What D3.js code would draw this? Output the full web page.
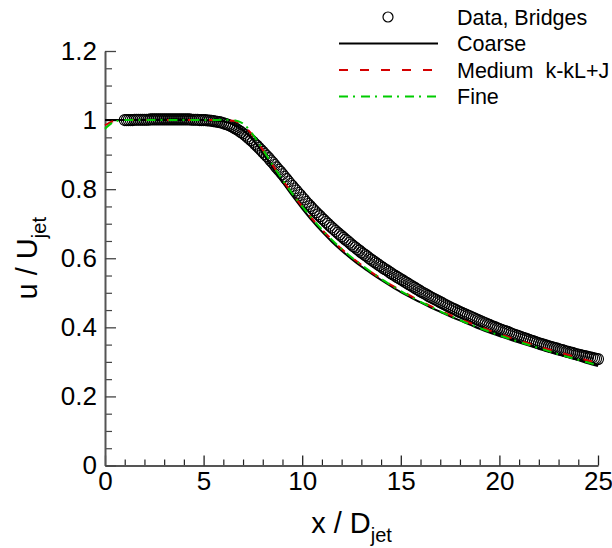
<!DOCTYPE html>
<html>
<head>
<meta charset="utf-8">
<script src="https://cdn.jsdelivr.net/npm/d3@7"></script>
<style>
  html, body { margin: 0; padding: 0; background: #fff; }
  svg { display: block; font-family: "Liberation Sans", Arial, Helvetica, sans-serif; }
  text { white-space: pre; }
</style>
</head>
<body>
<svg id="chart" width="612" height="548"></svg>
<script>
// Centreline velocity decay of the jet: measured points and three grid levels.
const dataX = [
  1.0, 1.1, 1.2, 1.3, 1.4, 1.5, 1.6, 1.7, 1.8, 1.9,
  2.0, 2.1, 2.2, 2.3, 2.4, 2.5, 2.6, 2.7, 2.8, 2.9,
  3.0, 3.1, 3.2, 3.3, 3.4, 3.5, 3.6, 3.7, 3.8, 3.9,
  4.0, 4.1, 4.2, 4.3, 4.4, 4.5, 4.6, 4.7, 4.8, 4.9,
  5.0, 5.1, 5.2, 5.3, 5.4, 5.5, 5.6, 5.7, 5.8, 5.9,
  6.0, 6.1, 6.2, 6.3, 6.4, 6.5, 6.6, 6.7, 6.8, 6.9,
  7.0, 7.1, 7.2, 7.3, 7.4, 7.5, 7.6, 7.7, 7.8, 7.9,
  8.0, 8.1, 8.2, 8.3, 8.4, 8.5, 8.6, 8.7, 8.8, 8.9,
  9.0, 9.1, 9.2, 9.3, 9.4, 9.5, 9.6, 9.7, 9.8, 9.9,
  10.0, 10.1, 10.2, 10.3, 10.4, 10.5, 10.6, 10.7, 10.8, 10.9,
  11.0, 11.1, 11.2, 11.3, 11.4, 11.5, 11.6, 11.7, 11.8, 11.9,
  12.0, 12.1, 12.2, 12.3, 12.4, 12.5, 12.6, 12.7, 12.8, 12.9,
  13.0, 13.1, 13.2, 13.3, 13.4, 13.5, 13.6, 13.7, 13.8, 13.9,
  14.0, 14.1, 14.2, 14.3, 14.4, 14.5, 14.6, 14.7, 14.8, 14.9,
  15.0, 15.1, 15.2, 15.3, 15.4, 15.5, 15.6, 15.7, 15.8, 15.9,
  16.0, 16.1, 16.2, 16.3, 16.4, 16.5, 16.6, 16.7, 16.8, 16.9,
  17.0, 17.1, 17.2, 17.3, 17.4, 17.5, 17.6, 17.7, 17.8, 17.9,
  18.0, 18.1, 18.2, 18.3, 18.4, 18.5, 18.6, 18.7, 18.8, 18.9,
  19.0, 19.1, 19.2, 19.3, 19.4, 19.5, 19.6, 19.7, 19.8, 19.9,
  20.0, 20.1, 20.2, 20.3, 20.4, 20.5, 20.6, 20.7, 20.8, 20.9,
  21.0, 21.1, 21.2, 21.3, 21.4, 21.5, 21.6, 21.7, 21.8, 21.9,
  22.0, 22.1, 22.2, 22.3, 22.4, 22.5, 22.6, 22.7, 22.8, 22.9,
  23.0, 23.1, 23.2, 23.3, 23.4, 23.5, 23.6, 23.7, 23.8, 23.9,
  24.0, 24.1, 24.2, 24.3, 24.4, 24.5, 24.6, 24.7, 24.8, 24.9,
  25.0
];
const dataU = [
  1.000, 1.000, 1.000, 1.000, 1.000, 1.001, 1.001, 1.001, 1.001, 1.001,
  1.001, 1.001, 1.001, 1.002, 1.002, 1.002, 1.002, 1.002, 1.002, 1.002,
  1.002, 1.002, 1.002, 1.002, 1.002, 1.002, 1.002, 1.002, 1.002, 1.002,
  1.002, 1.002, 1.002, 1.002, 1.001, 1.001, 1.001, 1.001, 1.000, 1.000,
  1.000, 1.000, 0.999, 0.999, 0.998, 0.997, 0.996, 0.995, 0.994, 0.993,
  0.991, 0.989, 0.987, 0.985, 0.982, 0.979, 0.976, 0.973, 0.969, 0.965,
  0.961, 0.957, 0.952, 0.947, 0.942, 0.937, 0.931, 0.926, 0.920, 0.914,
  0.908, 0.902, 0.896, 0.890, 0.883, 0.877, 0.870, 0.863, 0.856, 0.850,
  0.843, 0.836, 0.829, 0.822, 0.815, 0.809, 0.802, 0.796, 0.789, 0.783,
  0.776, 0.770, 0.763, 0.757, 0.751, 0.745, 0.739, 0.733, 0.727, 0.722,
  0.716, 0.711, 0.705, 0.700, 0.694, 0.689, 0.684, 0.679, 0.674, 0.669,
  0.664, 0.659, 0.654, 0.650, 0.645, 0.640, 0.635, 0.631, 0.626, 0.622,
  0.617, 0.613, 0.609, 0.605, 0.600, 0.596, 0.592, 0.588, 0.584, 0.580,
  0.576, 0.572, 0.568, 0.565, 0.561, 0.557, 0.553, 0.550, 0.546, 0.543,
  0.539, 0.536, 0.532, 0.529, 0.525, 0.522, 0.518, 0.515, 0.511, 0.508,
  0.504, 0.501, 0.498, 0.495, 0.491, 0.488, 0.485, 0.482, 0.479, 0.476,
  0.473, 0.470, 0.467, 0.464, 0.461, 0.458, 0.455, 0.453, 0.450, 0.447,
  0.444, 0.442, 0.439, 0.437, 0.434, 0.432, 0.429, 0.427, 0.424, 0.422,
  0.419, 0.417, 0.414, 0.412, 0.409, 0.407, 0.404, 0.402, 0.400, 0.397,
  0.395, 0.393, 0.391, 0.389, 0.387, 0.385, 0.382, 0.380, 0.378, 0.376,
  0.374, 0.372, 0.370, 0.368, 0.366, 0.364, 0.362, 0.360, 0.358, 0.356,
  0.354, 0.352, 0.351, 0.349, 0.347, 0.345, 0.344, 0.342, 0.340, 0.339,
  0.337, 0.335, 0.334, 0.332, 0.330, 0.329, 0.327, 0.326, 0.324, 0.322,
  0.321, 0.320, 0.318, 0.317, 0.316, 0.314, 0.313, 0.312, 0.310, 0.309,
  0.308
];

// Simulation stations along the axis (shared by the three grids)
const simX = [
  0, 0.5, 1, 1.5, 2, 2.5, 3, 3.5, 4, 4.5,
  5, 5.5, 6, 6.5, 7, 7.5, 8, 8.5, 9, 9.5,
  10, 10.5, 11, 11.5, 12, 12.5, 13, 13.5, 14, 14.5,
  15, 15.5, 16, 16.5, 17, 17.5, 18, 18.5, 19, 19.5,
  20, 20.5, 21, 21.5, 22, 22.5, 23, 23.5, 24, 24.5,
  25
];
const coarseU = [
  1.000, 1.000, 1.000, 1.000, 1.000, 1.000, 1.000, 1.000, 1.000, 1.000,
  1.000, 0.999, 0.996, 0.988, 0.971, 0.943, 0.905, 0.863, 0.821, 0.781,
  0.744, 0.709, 0.677, 0.648, 0.622, 0.598, 0.576, 0.556, 0.537, 0.519,
  0.502, 0.487, 0.472, 0.458, 0.445, 0.432, 0.420, 0.408, 0.396, 0.385,
  0.375, 0.365, 0.356, 0.347, 0.338, 0.329, 0.321, 0.313, 0.305, 0.296,
  0.288
];
const mediumU = [
  0.985, 0.998, 1.000, 1.000, 1.000, 1.000, 1.000, 1.000, 1.000, 1.000,
  1.000, 1.000, 1.000, 0.998, 0.985, 0.955, 0.914, 0.870, 0.827, 0.787,
  0.750, 0.715, 0.683, 0.654, 0.627, 0.603, 0.581, 0.560, 0.541, 0.523,
  0.507, 0.491, 0.476, 0.462, 0.449, 0.436, 0.424, 0.413, 0.402, 0.391,
  0.381, 0.371, 0.362, 0.353, 0.344, 0.336, 0.328, 0.320, 0.312, 0.304,
  0.297
];
const fineU = [
  0.975, 0.996, 1.000, 1.000, 1.000, 1.000, 1.000, 1.000, 1.000, 1.000,
  1.000, 1.000, 1.001, 1.000, 0.990, 0.958, 0.915, 0.870, 0.827, 0.787,
  0.750, 0.715, 0.683, 0.654, 0.627, 0.603, 0.581, 0.560, 0.541, 0.522,
  0.505, 0.489, 0.474, 0.460, 0.446, 0.433, 0.421, 0.409, 0.398, 0.387,
  0.377, 0.367, 0.358, 0.349, 0.340, 0.331, 0.322, 0.314, 0.306, 0.298,
  0.290
];

const xMajorTicks = [0, 5, 10, 15, 20, 25];
const xMajorLabels = ["0", "5", "10", "15", "20", "25"];
const xMinorTicks = [1, 2, 3, 4, 6, 7, 8, 9, 11, 12, 13, 14, 16, 17, 18, 19, 21, 22, 23, 24];
const yMajorTicks = [0, 0.2, 0.4, 0.6, 0.8, 1.0, 1.2];
const yMajorLabels = ["0", "0.2", "0.4", "0.6", "0.8", "1", "1.2"];
const yMinorTicks = [0.05, 0.1, 0.15, 0.25, 0.3, 0.35, 0.45, 0.5, 0.55, 0.65, 0.7, 0.75,
                     0.85, 0.9, 0.95, 1.05, 1.1, 1.15];

const legendItems = [
  { label: "Data, Bridges", kind: "circle" },
  { label: "Coarse", kind: "line", color: "#000000", dash: null },
  { label: "Medium  k-kL+J", kind: "line", color: "#d40000", dash: "9,12" },
  { label: "Fine", kind: "line", color: "#00cc00", dash: "9,5,2,6" }
];

const svg = d3.select("#chart");
const plotLeft = 105, plotRight = 598, plotTop = 51, plotBottom = 465.5;

const x = d3.scaleLinear().domain([0, 25]).range([plotLeft, plotRight]);
const y = d3.scaleLinear().domain([0, 1.2]).range([plotBottom, plotTop]);

// Minor ticks (inward)
svg.append("g")
  .attr("transform", `translate(0,${plotBottom})`)
  .call(d3.axisBottom(x).tickValues(xMinorTicks).tickSizeInner(-6).tickSizeOuter(0).tickFormat(""))
  .call(g => g.select(".domain").remove())
  .call(g => g.selectAll("line").attr("stroke", "#222").attr("stroke-width", 1.2));
svg.append("g")
  .attr("transform", `translate(${plotLeft},0)`)
  .call(d3.axisLeft(y).tickValues(yMinorTicks).tickSizeInner(-7).tickSizeOuter(0).tickFormat(""))
  .call(g => g.select(".domain").remove())
  .call(g => g.selectAll("line").attr("stroke", "#444").attr("stroke-width", 1.2));

// Major ticks with labels
const xAxis = svg.append("g")
  .attr("transform", `translate(0,${plotBottom})`)
  .call(d3.axisBottom(x).tickValues(xMajorTicks).tickSizeInner(-10).tickSizeOuter(0)
    .tickPadding(6).tickFormat((d, i) => xMajorLabels[i]));
xAxis.select(".domain").attr("stroke", "#555").attr("stroke-width", 2);
xAxis.selectAll(".tick line").attr("stroke", "#222").attr("stroke-width", 1.3);
xAxis.selectAll("text").attr("font-size", 26).attr("fill", "#000")
  .attr("font-family", "Liberation Sans, Arial, sans-serif");

const yAxis = svg.append("g")
  .attr("transform", `translate(${plotLeft},0)`)
  .call(d3.axisLeft(y).tickValues(yMajorTicks).tickSizeInner(-11).tickSizeOuter(0)
    .tickPadding(8).tickFormat((d, i) => yMajorLabels[i]));
yAxis.select(".domain").attr("stroke", "#555").attr("stroke-width", 2);
yAxis.selectAll(".tick line").attr("stroke", "#444").attr("stroke-width", 1.3);
yAxis.selectAll("text").attr("font-size", 26).attr("fill", "#000")
  .attr("font-family", "Liberation Sans, Arial, sans-serif");

// Measured data: hollow circles
const dataPts = dataX.map((d, i) => [d, dataU[i]]);
svg.append("g").selectAll("circle")
  .data(dataPts).join("circle")
  .attr("cx", d => x(d[0])).attr("cy", d => y(d[1])).attr("r", 5.5)
  .attr("fill", "none").attr("stroke", "#000").attr("stroke-width", 1.1);

// Simulation curves
const line = d3.line().x(d => x(d[0])).y(d => y(d[1])).curve(d3.curveMonotoneX);
const series = [
  { u: coarseU, color: "#000000", dash: null },
  { u: mediumU, color: "#d40000", dash: "9,12" },
  { u: fineU, color: "#00cc00", dash: "9,5,2,6" }
];
series.forEach(s => {
  svg.append("path")
    .datum(simX.map((d, i) => [d, s.u[i]]))
    .attr("d", line)
    .attr("fill", "none")
    .attr("stroke", s.color)
    .attr("stroke-width", 2)
    .attr("stroke-dasharray", s.dash);
});

// Legend
const lg = svg.append("g");
legendItems.forEach((item, i) => {
  const cy = 17 + i * 26.5;
  if (item.kind === "circle") {
    lg.append("circle").attr("cx", 388).attr("cy", cy).attr("r", 5)
      .attr("fill", "none").attr("stroke", "#000").attr("stroke-width", 1.2);
  } else {
    lg.append("line").attr("x1", 339).attr("x2", 438).attr("y1", cy).attr("y2", cy)
      .attr("stroke", item.color).attr("stroke-width", 2)
      .attr("stroke-dasharray", item.dash);
  }
  lg.append("text").attr("x", 457).attr("y", cy + 7.5)
    .attr("font-size", 21.5).attr("fill", "#000").text(item.label);
});

// Axis titles
const xt = svg.append("text").attr("x", (plotLeft + plotRight) / 2).attr("y", 533)
  .attr("text-anchor", "middle").attr("font-size", 29).attr("fill", "#000");
xt.append("tspan").text("x / D");
xt.append("tspan").attr("font-size", 20).attr("dy", 9).text("jet");

const yt = svg.append("text")
  .attr("transform", `translate(37,${(plotTop + plotBottom) / 2}) rotate(-90)`)
  .attr("text-anchor", "middle").attr("font-size", 29).attr("fill", "#000");
yt.append("tspan").text("u / U");
yt.append("tspan").attr("font-size", 20).attr("dy", 9).text("jet");
</script>
</body>
</html>
